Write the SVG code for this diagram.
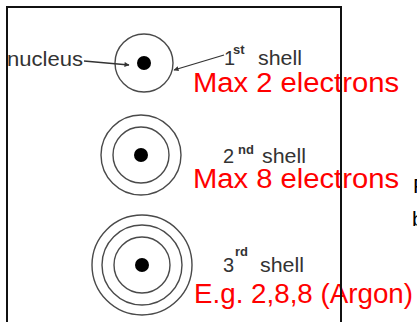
<svg xmlns="http://www.w3.org/2000/svg" width="417" height="322" viewBox="0 0 417 322">
  <defs>
    <style>
      .shell { fill: none; stroke: #4a4a4a; stroke-width: 1.4; }
      .nuc { fill: #000; }
      .lbl { font-family: "Liberation Sans", Arial, sans-serif; font-size: 20px; fill: #333; }
      .sup { font-family: "Liberation Sans", Arial, sans-serif; font-size: 13px; font-weight: bold; fill: #333; }
      .red { font-family: "Liberation Sans", Arial, sans-serif; font-size: 27px; fill: #ff0000; }
      .blk { font-family: "Liberation Sans", Arial, sans-serif; font-size: 21px; fill: #000; }
      .conn { stroke: #333; stroke-width: 1.3; fill: none; marker-end: url(#ah); }
      .frame { stroke: #111; stroke-width: 2; fill: none; }
    </style>
    <marker id="ah" viewBox="0 0 10 10" refX="9" refY="5" markerWidth="6" markerHeight="5" orient="auto" markerUnits="userSpaceOnUse">
      <path d="M0,0 L10,5 L0,10 z" fill="#333"/>
    </marker>
  </defs>
  <rect width="417" height="322" fill="#fff"/>

  <g id="atom1">
    <circle class="shell" cx="144" cy="63" r="29"/>
    <circle class="nuc" cx="144" cy="63" r="7"/>
  </g>
  <g id="atom2">
    <circle class="shell" cx="141" cy="155" r="28"/>
    <circle class="shell" cx="141" cy="155" r="40"/>
    <circle class="nuc" cx="141" cy="155" r="7"/>
  </g>
  <g id="atom3">
    <circle class="shell" cx="142" cy="265" r="28"/>
    <circle class="shell" cx="142" cy="265" r="40"/>
    <circle class="shell" cx="142" cy="265" r="50"/>
    <circle class="nuc" cx="142" cy="265" r="7"/>
  </g>

  <g id="connectors">
    <line class="conn" x1="84" y1="61" x2="129" y2="65"/>
    <line class="conn" x1="224" y1="55" x2="174" y2="70"/>
  </g>

  <g id="label-nucleus">
    <text class="lbl" x="7" y="66" textLength="76" lengthAdjust="spacingAndGlyphs">nucleus</text>
  </g>
  <g id="label-shell1">
    <text class="lbl" x="224" y="65">1</text>
    <text class="sup" x="233" y="54">st</text>
    <text class="lbl" x="258" y="65" textLength="44" lengthAdjust="spacingAndGlyphs">shell</text>
  </g>
  <g id="label-shell2">
    <text class="lbl" x="223" y="163">2</text>
    <text class="sup" x="238" y="154">nd</text>
    <text class="lbl" x="262" y="163" textLength="44" lengthAdjust="spacingAndGlyphs">shell</text>
  </g>
  <g id="label-shell3">
    <text class="lbl" x="223" y="271.5">3</text>
    <text class="sup" x="235" y="256">rd</text>
    <text class="lbl" x="260" y="271.5" textLength="44" lengthAdjust="spacingAndGlyphs">shell</text>
  </g>

  <g id="notes">
    <text class="red" x="193" y="92" textLength="206" lengthAdjust="spacingAndGlyphs">Max 2 electrons</text>
    <text class="red" x="193" y="188" textLength="206" lengthAdjust="spacingAndGlyphs">Max 8 electrons</text>
    <text class="red" x="194" y="303" textLength="219" lengthAdjust="spacingAndGlyphs">E.g. 2,8,8 (Argon)</text>
    <text class="blk" x="413" y="193">P</text>
    <text class="blk" x="412" y="226">b</text>
  </g>

  <g id="frame">
    <polyline class="frame" points="7,322 7,7 341,7 341,322"/>
  </g>
</svg>
